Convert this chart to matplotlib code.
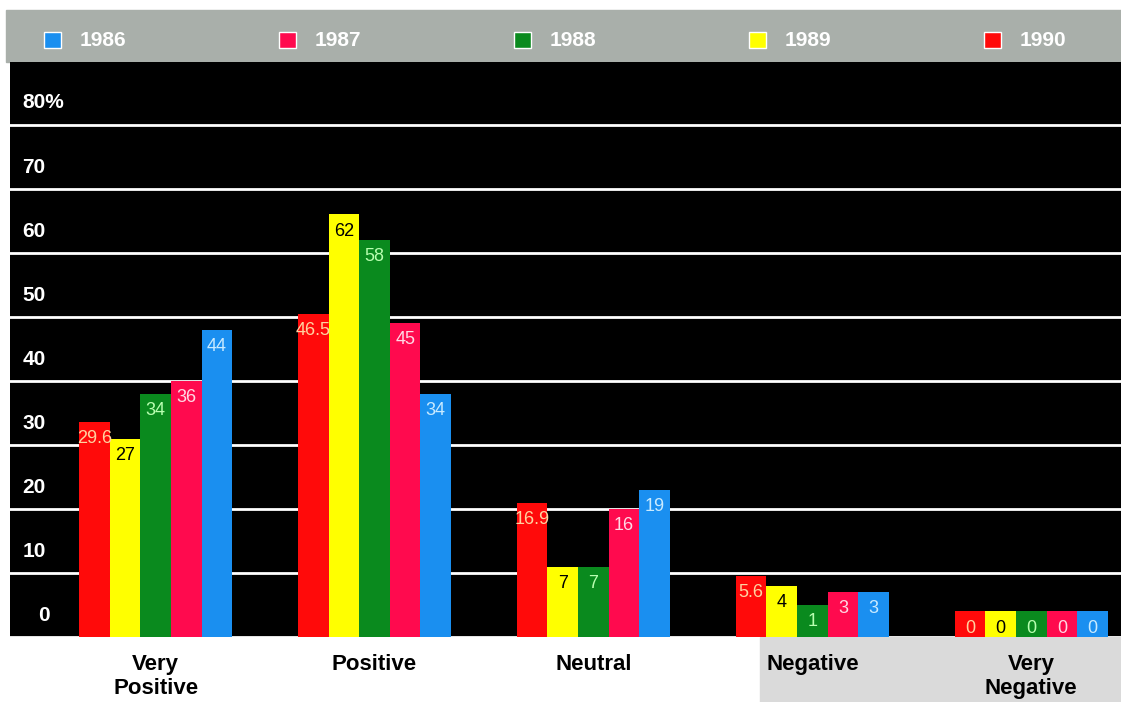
import numpy as np
import matplotlib.pyplot as plt
from matplotlib.patches import Rectangle

# data (percent of respondents)
categories = ['Very\nPositive', 'Positive', 'Neutral', 'Negative', 'Very\nNegative']
years = ['1990', '1989', '1988', '1987', '1986']
v1990 = [29.6, 46.5, 16.9, 5.6, 0]
v1989 = [27, 62, 7, 4, 0]
v1988 = [34, 58, 7, 1, 0]
v1987 = [36, 45, 16, 3, 0]
v1986 = [44, 34, 19, 3, 0]
yticks = [0, 10, 20, 30, 40, 50, 60, 70, 80]
ytick_labels = ['0', '10', '20', '30', '40', '50', '60', '70', '80%']

series = [v1990, v1989, v1988, v1987, v1986]
bar_colors = ['#ff0a0a', '#ffff00', '#0a8a1e', '#ff0a4e', '#1a8ff0']
text_colors = ['#ffd2a0', '#000000', '#b8ffb0', '#ffd8e4', '#c8eaff']
legend_order = [4, 3, 2, 1, 0]  # 1986 .. 1990 left to right

stub = 4  # the printed bars sit a little above the zero line

W, H = 1121, 702
fig = plt.figure(figsize=(W / 100, H / 100), dpi=100)
fig.patch.set_facecolor('white')

# light grey scan patch bottom right
fig.patches.append(Rectangle((760 / W, 0), 1 - 760 / W, (H - 637) / H,
                             transform=fig.transFigure, color='#dadada', zorder=-1))

# legend strip
fig.patches.append(Rectangle((6 / W, (H - 62) / H), 1 - 6 / W, 52 / H,
                             transform=fig.transFigure, color='#a9afaa', zorder=-1))
for k, i in enumerate(legend_order):
    x0 = 44 + 235 * k
    fig.patches.append(Rectangle((x0 / W, (H - 48) / H), 17 / W, 16 / H,
                                 transform=fig.transFigure, facecolor=bar_colors[i],
                                 edgecolor='white', lw=1, zorder=2))
    fig.text((x0 + 36) / W, (H - 41) / H, years[i], color='white', fontsize=15,
             fontweight='bold', va='center', ha='left', family='Liberation Sans')

ax = fig.add_axes([10 / W, (H - 637) / H, (W - 10) / W, (637 - 62) / H])
ax.set_zorder(1)
ax.set_facecolor('black')
for s in ax.spines.values():
    s.set_visible(False)

x = np.arange(len(categories))
w = 0.14
for i, vals in enumerate(series):
    vals = np.array(vals, dtype=float)
    pos = x + (i - 2) * w
    ax.bar(pos, vals + stub, width=w, color=bar_colors[i], zorder=2)
    for p, v in zip(pos, vals):
        ax.text(p, v + stub - 2.6, f'{v:g}', ha='center', va='center',
                color=text_colors[i], fontsize=13, zorder=3,
                family='Liberation Sans')

ax.set_xlim(-0.665, 4.41)
ax.set_ylim(0, 89.8)
ax.set_yticks(yticks)
ax.grid(axis='y', color='white', lw=2)
ax.set_axisbelow(True)
ax.tick_params(length=0, labelleft=False, labelbottom=False)
for t, lab in zip(yticks, ytick_labels):
    ax.text(0.011 if t else 0.025, t + 3.4, lab, transform=ax.get_yaxis_transform(),
            color='white', fontsize=15, fontweight='bold', va='center', ha='left',
            family='Liberation Sans')

for xi, cat in zip(x, categories):
    ax.text(xi, -2.6, cat, ha='center', va='top', fontsize=16, fontweight='bold',
            color='black', linespacing=1.2, family='Liberation Sans', clip_on=False)

fig.savefig('out.png', dpi=100)
